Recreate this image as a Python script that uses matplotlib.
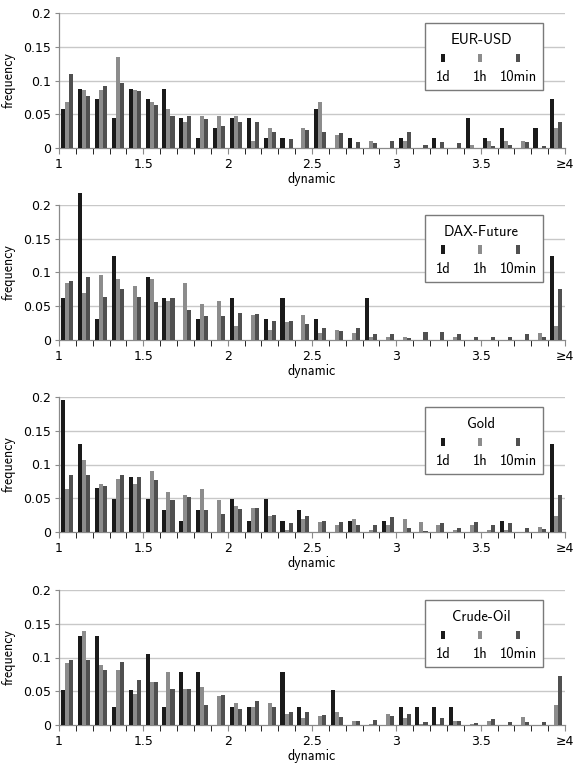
import numpy as np
import matplotlib
matplotlib.use('Agg')
import matplotlib.pyplot as plt
from matplotlib.patches import Rectangle

# bins of width 0.1 from 1 to 4 (last one is >=4)
n_bins = 30
tick_pos = [0, 5, 10, 15, 20, 25, 30]
tick_labels = ['1', '1.5', '2', '2.5', '3', '3.5', '≥4']
series = ['1d', '1h', '10min']
colors = ['#1a1a1a', '#8c8c8c', '#505050']

titles = ['EUR-USD', 'DAX-Future', 'Gold', 'Crude-Oil']

eur_1d = [0.058, 0.087, 0.073, 0.044, 0.087, 0.073, 0.087, 0.044, 0.015, 0.030,
          0.044, 0.044, 0.015, 0.015, 0.0, 0.058, 0.0, 0.015, 0.0, 0.0,
          0.015, 0.0, 0.015, 0.0, 0.044, 0.015, 0.030, 0.0, 0.030, 0.073]
eur_1h = [0.068, 0.086, 0.086, 0.135, 0.086, 0.068, 0.058, 0.039, 0.048, 0.048,
          0.048, 0.010, 0.030, 0.0, 0.030, 0.068, 0.020, 0.0, 0.010, 0.0,
          0.010, 0.0, 0.0, 0.0, 0.005, 0.010, 0.010, 0.010, 0.0, 0.030]
eur_10m = [0.109, 0.077, 0.092, 0.097, 0.085, 0.064, 0.047, 0.047, 0.043, 0.033,
           0.039, 0.039, 0.024, 0.013, 0.026, 0.024, 0.022, 0.009, 0.007, 0.011,
           0.024, 0.005, 0.009, 0.007, 0.0, 0.003, 0.005, 0.009, 0.003, 0.039]

dax_1d = [0.062, 0.218, 0.031, 0.125, 0.0, 0.094, 0.062, 0.0, 0.031, 0.0,
          0.062, 0.0, 0.031, 0.062, 0.0, 0.031, 0.0, 0.0, 0.062, 0.0,
          0.0, 0.0, 0.0, 0.0, 0.0, 0.0, 0.0, 0.0, 0.0, 0.125]
dax_1h = [0.085, 0.069, 0.096, 0.091, 0.080, 0.091, 0.058, 0.085, 0.053, 0.058,
          0.021, 0.037, 0.015, 0.027, 0.037, 0.010, 0.015, 0.010, 0.005, 0.005,
          0.005, 0.0, 0.0, 0.005, 0.0, 0.0, 0.0, 0.0, 0.010, 0.021]
dax_10m = [0.087, 0.093, 0.064, 0.076, 0.064, 0.056, 0.062, 0.044, 0.036, 0.036,
           0.040, 0.038, 0.028, 0.028, 0.024, 0.018, 0.014, 0.018, 0.009, 0.009,
           0.003, 0.012, 0.012, 0.009, 0.005, 0.004, 0.005, 0.009, 0.005, 0.076]

gold_1d = [0.196, 0.131, 0.065, 0.049, 0.081, 0.049, 0.032, 0.016, 0.032, 0.0,
           0.049, 0.016, 0.049, 0.016, 0.032, 0.0, 0.0, 0.016, 0.0, 0.016,
           0.0, 0.0, 0.0, 0.0, 0.0, 0.0, 0.016, 0.0, 0.0, 0.131]
gold_1h = [0.063, 0.107, 0.071, 0.078, 0.071, 0.090, 0.059, 0.055, 0.063, 0.047,
           0.039, 0.035, 0.024, 0.003, 0.019, 0.015, 0.011, 0.019, 0.003, 0.011,
           0.019, 0.015, 0.011, 0.003, 0.011, 0.003, 0.003, 0.0, 0.007, 0.023]
gold_10m = [0.084, 0.084, 0.068, 0.084, 0.082, 0.077, 0.047, 0.052, 0.032, 0.027,
            0.034, 0.036, 0.025, 0.013, 0.024, 0.017, 0.015, 0.011, 0.011, 0.022,
            0.006, 0.001, 0.013, 0.006, 0.015, 0.011, 0.013, 0.006, 0.004, 0.055]

oil_1d = [0.052, 0.132, 0.132, 0.026, 0.052, 0.105, 0.026, 0.079, 0.079, 0.0,
          0.026, 0.026, 0.0, 0.079, 0.026, 0.0, 0.052, 0.0, 0.0, 0.0,
          0.026, 0.026, 0.026, 0.026, 0.0, 0.0, 0.0, 0.0, 0.0, 0.0]
oil_1h = [0.092, 0.139, 0.089, 0.082, 0.046, 0.063, 0.079, 0.053, 0.056, 0.043,
          0.033, 0.026, 0.033, 0.016, 0.010, 0.013, 0.019, 0.006, 0.002, 0.016,
          0.010, 0.002, 0.002, 0.006, 0.002, 0.006, 0.0, 0.012, 0.0, 0.029]
oil_10m = [0.096, 0.096, 0.081, 0.093, 0.067, 0.063, 0.053, 0.053, 0.029, 0.045,
           0.023, 0.035, 0.026, 0.020, 0.020, 0.015, 0.012, 0.006, 0.008, 0.013,
           0.016, 0.004, 0.010, 0.006, 0.003, 0.009, 0.004, 0.005, 0.005, 0.073]

panels = [
    (eur_1d, eur_1h, eur_10m),
    (dax_1d, dax_1h, dax_10m),
    (gold_1d, gold_1h, gold_10m),
    (oil_1d, oil_1h, oil_10m),
]

label_font = 'cmss10'
grid_col = '#c8c8c8'
spine_col = '#8a8a8a'

fig = plt.figure(figsize=(5.82, 7.67), dpi=100)
bottoms = [148, 340, 532, 725]
x = np.arange(n_bins)
bw = 0.24

for k, (title, vals) in enumerate(zip(titles, panels)):
    ax = fig.add_axes([59 / 582, 1 - bottoms[k] / 767, 506 / 582, 135 / 767])
    for j, v in enumerate(vals):
        ax.bar(x + 0.13 + bw * j, v, width=bw, align='edge', color=colors[j],
               linewidth=0, zorder=3, clip_on=False)

    ax.set_xlim(0, n_bins)
    ax.set_ylim(0, 0.2)
    ax.set_yticks([0, 0.05, 0.1, 0.15, 0.2])
    ax.set_yticklabels(['0', '0.05', '0.1', '0.15', '0.2'])
    ax.set_xticks(tick_pos)
    ax.set_xticklabels(tick_labels)
    ax.set_xticks(np.arange(n_bins + 1), minor=True)
    ax.tick_params(axis='both', labelsize=9, color=spine_col, width=0.8)
    ax.tick_params(axis='x', which='both', length=4, pad=3)
    ax.tick_params(axis='y', length=3, pad=3)

    for yv in [0.05, 0.1, 0.15, 0.2]:
        ax.axhline(yv, color=grid_col, linewidth=1.0, zorder=1)
    for s in ['top', 'right']:
        ax.spines[s].set_visible(False)
    for s in ['left', 'bottom']:
        ax.spines[s].set_color(spine_col)
        ax.spines[s].set_linewidth(0.9)

    ax.set_xlabel('dynamic', fontfamily=label_font, fontsize=10, labelpad=1)
    ax.set_ylabel('frequency', fontfamily=label_font, fontsize=10, labelpad=5)

    # legend box drawn by hand (labels sit under the markers)
    ax.add_patch(Rectangle((0.723, 0.43), 0.234, 0.496, transform=ax.transAxes,
                           facecolor='white', edgecolor='#7a7a7a', linewidth=1.0,
                           zorder=5))
    ax.text(0.834, 0.80, title, transform=ax.transAxes, ha='center', va='center',
            fontfamily=label_font, fontsize=10.5, zorder=6)
    for xm, name, c in zip([0.759, 0.832, 0.907], series, colors):
        ax.add_patch(Rectangle((xm - 0.004, 0.64), 0.008, 0.06, transform=ax.transAxes,
                               facecolor=c, linewidth=0, zorder=6))
        ax.text(xm, 0.525, name, transform=ax.transAxes, ha='center', va='center',
                fontfamily=label_font, fontsize=10.5, zorder=6)

fig.savefig('out.png', dpi=100)
